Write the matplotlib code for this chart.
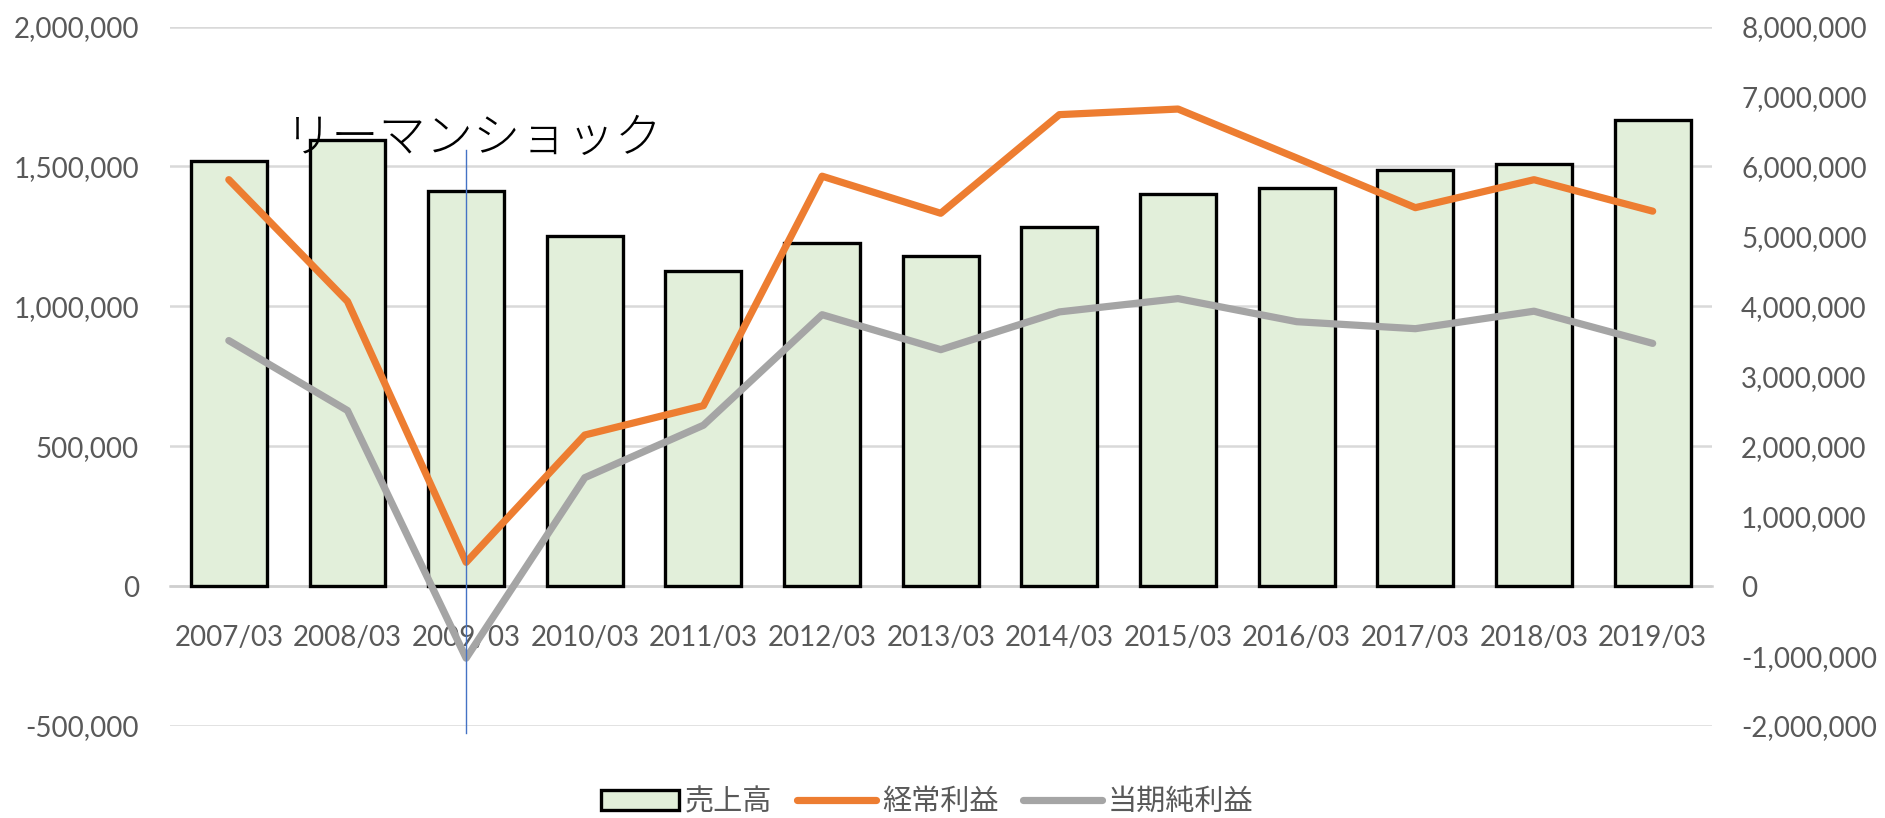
import matplotlib
matplotlib.use("Agg")
import matplotlib.pyplot as plt
from matplotlib.patches import Patch
from matplotlib.lines import Line2D

categories = ["2007/03", "2008/03", "2009/03", "2010/03", "2011/03", "2012/03", "2013/03",
              "2014/03", "2015/03", "2016/03", "2017/03", "2018/03", "2019/03"]
sales = [1520000, 1595000, 1413000, 1250000, 1125000, 1228000, 1181000,
         1284000, 1400000, 1422000, 1486000, 1508000, 1667000]
ordinary_profit = [5810000, 4070000, 340000, 2160000, 2580000, 5860000, 5330000,
                   6740000, 6820000, 6120000, 5410000, 5810000, 5360000]
net_profit = [3510000, 2510000, -1030000, 1550000, 2300000, 3880000, 3380000,
              3920000, 4110000, 3780000, 3680000, 3930000, 3470000]
left_ticks = [-500000, 0, 500000, 1000000, 1500000, 2000000]
right_ticks = [-2000000, -1000000, 0, 1000000, 2000000, 3000000, 4000000,
               5000000, 6000000, 7000000, 8000000]
series_names = ["売上高", "経常利益", "当期純利益"]
annotation_text = "リーマンショック"
annotation_index = 2

TICK_FONT = ["Lato", "DejaVu Sans"]
JP_FONT = ["Noto Sans CJK JP", "DejaVu Sans"]
TICK_COLOR = "#595959"
GRID_COLOR = "#D9D9D9"

W, H = 1885, 818
fig = plt.figure(figsize=(W / 100, H / 100), dpi=100)
left_px, right_px, top_px, bottom_px = 169.5, 1712, 26.5, 726
ax = fig.add_axes([left_px / W, 1 - bottom_px / H, (right_px - left_px) / W, (bottom_px - top_px) / H])
ax2 = ax.twinx()

x = list(range(len(categories)))
ax.bar(x, sales, width=0.64, color="#E2EFDA", edgecolor="black", linewidth=2.4, zorder=3)
ax.set_xlim(-0.5, len(categories) - 0.5)
ax.set_ylim(left_ticks[0], left_ticks[-1])
ax.set_yticks(left_ticks)
ax.set_yticklabels([f"{v:,}" for v in left_ticks])
ax.yaxis.grid(True, color=GRID_COLOR, linewidth=1.8, zorder=0)
ax.set_axisbelow(True)

for s in ["top", "left", "right"]:
    ax.spines[s].set_visible(False)
ax.spines["bottom"].set_position(("data", 0))
ax.spines["bottom"].set_color("#CFCFCF")
ax.spines["bottom"].set_linewidth(1.8)
ax.set_xticks(x)
ax.set_xticklabels(categories)
ax.tick_params(axis="x", length=0, pad=28, labelsize=20, labelcolor=TICK_COLOR)
ax.tick_params(axis="y", length=0, pad=22, labelsize=20, labelcolor=TICK_COLOR)
for lab in ax.get_xticklabels() + ax.get_yticklabels():
    lab.set_family(TICK_FONT)

ax2.plot(x, ordinary_profit, color="#ED7D31", linewidth=5.2, solid_joinstyle="round",
         solid_capstyle="round", zorder=3)
ax2.plot(x, net_profit, color="#A5A5A5", linewidth=5.2, solid_joinstyle="round",
         solid_capstyle="round", zorder=3)
ax2.set_ylim(right_ticks[0], right_ticks[-1])
ax2.set_yticks(right_ticks)
ax2.set_yticklabels([f"{v:,}" for v in right_ticks])
ax2.tick_params(axis="y", length=0, pad=21, labelsize=20, labelcolor=TICK_COLOR)
for lab in ax2.get_yticklabels():
    lab.set_family(TICK_FONT)
for s in ax2.spines.values():
    s.set_visible(False)

# annotation
ax2.axvline(annotation_index, ymin=-0.01, ymax=0.823, color="#4472C4", linewidth=1.0,
            clip_on=False, zorder=5)
ax.text(0.47, 1598000, annotation_text, ha="left", va="center", fontsize=34,
        family=JP_FONT, fontweight="light", color="black", zorder=10)
ax.set_zorder(0)

handles = [Patch(facecolor="#E2EFDA", edgecolor="black", linewidth=2.4),
           Line2D([], [], color="#ED7D31", linewidth=5.2, solid_capstyle="round"),
           Line2D([], [], color="#A5A5A5", linewidth=5.2, solid_capstyle="round")]
leg = fig.legend(handles, series_names, loc="center", bbox_to_anchor=(927 / W, 1 - 802 / H),
                 ncol=3, frameon=False, prop={"family": JP_FONT, "size": 21},
                 handlelength=2.7, handletextpad=0.2, columnspacing=0.85)
for t in leg.get_texts():
    t.set_color(TICK_COLOR)

fig.savefig("out.png", dpi=100)
